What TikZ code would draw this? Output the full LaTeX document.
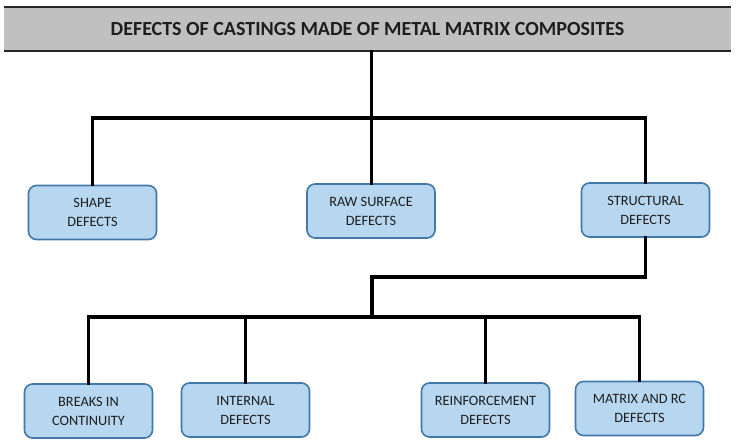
\documentclass[tikz,border=0pt]{standalone}
\usepackage{fontspec}
\setmainfont{Carlito}
\definecolor{boxfill}{HTML}{B7D7F0}
\definecolor{boxline}{HTML}{4178A8}
\definecolor{barfill}{HTML}{C0C0C0}
\definecolor{bardark}{HTML}{262626}
\definecolor{txt}{HTML}{1E1E1E}
\tikzset{
  catbox/.style={draw=boxline, fill=boxfill, line width=1.6pt, rounded corners=8pt,
    minimum width=128pt, minimum height=54pt, align=center, text=txt,
    font=\fontsize{14.3}{19}\selectfont, inner sep=0pt},
  conn/.style={line width=3.2pt, black, line cap=rect, line join=miter},
}
\begin{document}
\begin{tikzpicture}[x=1pt,y=-1pt]
\useasboundingbox (0,0) rectangle (737,446);
% title bar
\node[fill=barfill, minimum width=727pt, minimum height=44pt, inner sep=0pt, text=txt,
  font=\bfseries\fontsize{20}{22}\selectfont] (t) at (367.5,29) {DEFECTS OF CASTINGS MADE OF METAL MATRIX COMPOSITES};
\draw[bardark, line width=2.5pt] (t.north west) -- (t.north east);
\draw[bardark, line width=2.5pt] (t.south west) -- (t.south east);
% level 1
\node[catbox] (shape) at (92.5,212.5) {SHAPE\\DEFECTS};
\node[catbox] (raw) at (371,211) {RAW SURFACE\\DEFECTS};
\node[catbox] (struct) at (645.5,210) {STRUCTURAL\\DEFECTS};
% level 2
\node[catbox] (breaks) at (88.5,411) {BREAKS IN\\CONTINUITY};
\node[catbox] (internal) at (245.5,410) {INTERNAL\\DEFECTS};
\node[catbox] (reinf) at (485.5,410) {REINFORCEMENT\\DEFECTS};
\node[catbox] (matrix) at (639.5,408.5) {MATRIX AND RC\\DEFECTS};
% junctions
\coordinate (j1) at (371.5,118);
\coordinate (j2) at (372,277);
\coordinate (j3) at (372,317);
% connectors
\draw[conn] (t.south -| j1) -- (raw.north -| j1);
\draw[conn] (shape.north) |- (j1) -| (struct.north);
\draw[conn] (struct.south) |- (j2) -- (j3);
\draw[conn] (breaks.north) |- (j3) -| (matrix.north);
\draw[conn] (internal.north) -- (internal.north |- j3);
\draw[conn] (reinf.north) -- (reinf.north |- j3);
\end{tikzpicture}
\end{document}
